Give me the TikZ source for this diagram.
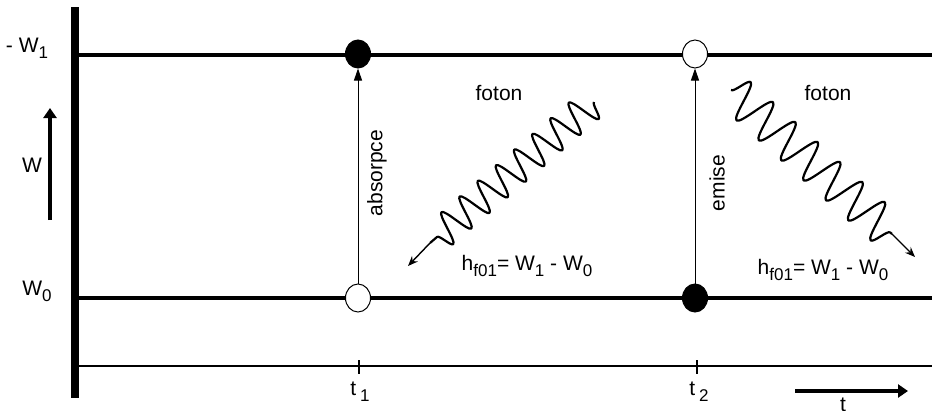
\documentclass[tikz,border=0pt]{standalone}
\usepackage{fontspec}
\setmainfont{Liberation Sans}
\usetikzlibrary{shapes.geometric,arrows.meta,decorations.pathmorphing}
\newcommand\lowsub[1]{\raisebox{-6pt}{\fontsize{17}{17}\selectfont #1}}
\begin{document}
\begin{tikzpicture}[x=1pt,y=-1pt,
  lbl/.style={font=\fontsize{21}{24}\selectfont, inner sep=0pt},
  dot/.style={ellipse, draw, line width=1pt, minimum width=25pt, minimum height=28pt, inner sep=0pt},
  fulldot/.style={dot, fill=black},
  emptydot/.style={dot, fill=white},
  wavea/.style={line width=2.2pt, line join=round, decorate, decoration={snake, amplitude=16pt, segment length=24pt}},
  waveb/.style={line width=2.2pt, line join=round, decorate, decoration={snake, amplitude=19pt, segment length=30pt}},
  thinarrow/.style={line width=1pt, -{Triangle[length=12pt,width=8pt]}},
  photonarrow/.style={line width=1.4pt, -{Stealth[length=10pt,width=8pt]}},
  bigarrow/.style={line width=4.2pt, -{Triangle[length=10pt,width=13pt]}},
  ]
\useasboundingbox (0,0) rectangle (932,410);
% levels and axes
\coordinate (vtop) at (75,7);
\coordinate (vbot) at (75,398);
\coordinate (l1a) at (75,55);
\coordinate (l1b) at (932,55);
\coordinate (l0a) at (75,298);
\coordinate (l0b) at (932,298);
\coordinate (axa) at (75,366);
\coordinate (axb) at (932,366);
\draw[line width=3.5pt] (l1a) -- (l1b);
\draw[line width=4pt] (l0a) -- (l0b);
\draw[line width=1.3pt] (axa) -- (axb);
\draw[line width=7.5pt] (vtop) -- (vbot);
% ticks
\coordinate (k1a) at (359,360); \coordinate (k1b) at (359,374);
\coordinate (k2a) at (697,360); \coordinate (k2b) at (697,374);
\draw[line width=1.2pt] (k1a) -- (k1b);
\draw[line width=1.2pt] (k2a) -- (k2b);
% circles
\node[fulldot] (c1t) at (358,54) {};
\node[emptydot] (c1b) at (358,298) {};
\node[emptydot] (c2t) at (695,54) {};
\node[fulldot] (c2b) at (695,298) {};
\draw[thinarrow] (c1b) -- (c1t);
\draw[thinarrow] (c2b) -- (c2t);
% labels
\node[lbl] (lw1) at (27,48) {- W\lowsub{1}};
\node[lbl] (lw0) at (37,291) {W\lowsub{0}};
\node[lbl] (lw) at (32,165) {W};
\coordinate (wa) at (50,220); \coordinate (wb) at (50,108);
\draw[bigarrow] (wa) -- (wb);
\node[lbl] (lt1) at (360,392) {t\hspace{4pt}\lowsub{1}};
\node[lbl] (lt2) at (699,392) {t\hspace{4pt}\lowsub{2}};
\coordinate (ta) at (795,391); \coordinate (tb) at (908,391);
\draw[bigarrow] (ta) -- (tb);
\node[lbl, anchor=north] (lt) at (843,398) {t};
\node[lbl, rotate=90] (abs) at (377,173) {absorpce};
\node[lbl, rotate=90] (emi) at (717,183) {emise};
\node[lbl] (f1) at (499,93) {foton};
\node[lbl] (f2) at (828,93) {foton};
\node[lbl] (h1) at (527,266) {h\lowsub{f01}= W\lowsub{1} - W\lowsub{0}};
\node[lbl] (h2) at (823,270) {h\lowsub{f01}= W\lowsub{1} - W\lowsub{0}};
% photons
\coordinate (p1s) at (594,102); \coordinate (p1e) at (430,243); \coordinate (p1t) at (408,266);
\draw[wavea] (p1s) -- (p1e);
\draw[photonarrow] (p1e) -- (p1t);
\coordinate (p2s) at (731,90); \coordinate (p2e) at (892,234); \coordinate (p2t) at (915,257);
\draw[waveb] (p2s) -- (p2e);
\draw[photonarrow] (p2e) -- (p2t);
\end{tikzpicture}
\end{document}
